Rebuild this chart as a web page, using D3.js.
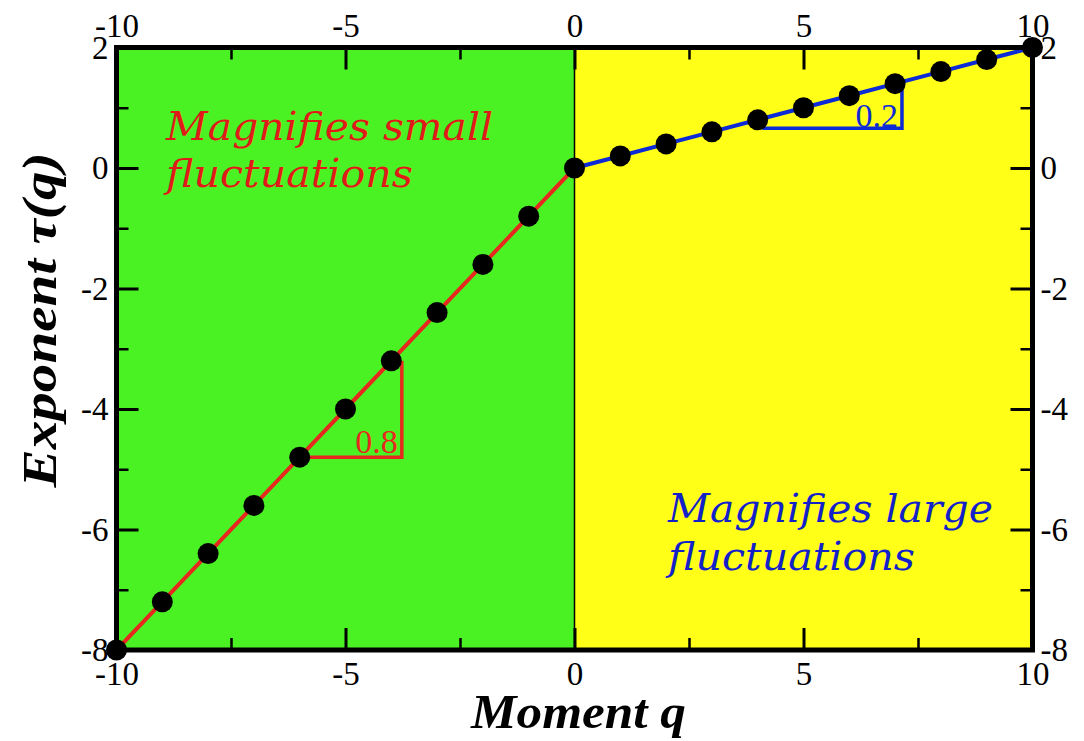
<!DOCTYPE html>
<html>
<head>
<meta charset="utf-8">
<script src="https://cdn.jsdelivr.net/npm/d3@7/dist/d3.min.js"></script>
<style>
  html, body { margin: 0; padding: 0; background: #ffffff; }
  svg { display: block; }
</style>
</head>
<body>
<svg id="chart" width="1084" height="741"></svg>
<script>
// Moments q and the scaling exponent tau(q)
const qNeg   = [-10, -9, -8, -7, -6, -5, -4, -3, -2, -1, 0];
const tauNeg = [-8, -7.2, -6.4, -5.6, -4.8, -4, -3.2, -2.4, -1.6, -0.8, 0];
const qPos   = [0, 1, 2, 3, 4, 5, 6, 7, 8, 9, 10];
const tauPos = [0, 0.2, 0.4, 0.6, 0.8, 1, 1.2, 1.4, 1.6, 1.8, 2];

// Slope guides (two legs each) and their labels
const slopeNeg = [[-6, -4.8], [-3.77, -4.8], [-3.77, -3.2]];
const slopePos = [[4.1, 0.66], [7.15, 0.66], [7.15, 1.32]];
const slopeNegLabel = "0.8";
const slopePosLabel = "0.2";

// Axis ticks
const xMajor = [-10, -5, 0, 5, 10];
const xMinor = [-7.5, -2.5, 2.5, 7.5];
const xLabels = ["-10", "-5", "0", "5", "10"];
const yMajor = [-8, -6, -4, -2, 0, 2];
const yMinor = [-7, -5, -3, -1, 1];
const yLabels = ["-8", "-6", "-4", "-2", "0", "2"];

const svg = d3.select("#chart");
const L = 116.5, R = 1032.5, T = 47.5, B = 650;

const x = d3.scaleLinear().domain([-10, 10]).range([L, R]);
const y = d3.scaleLinear().domain([-8, 2]).range([B, T]);

const GREEN = "#4af224", YELLOW = "#ffff18";
const RED = "#e6281e", BLUE = "#0c2ad6";
const RED_TXT = "#e01a18", BLUE_TXT = "#1222c8";

// Background regions
svg.append("rect").attr("x", x(-10)).attr("y", T)
  .attr("width", x(0) - x(-10)).attr("height", B - T).attr("fill", GREEN);
svg.append("rect").attr("x", x(0)).attr("y", T)
  .attr("width", x(10) - x(0)).attr("height", B - T).attr("fill", YELLOW);
svg.append("line").attr("x1", x(0)).attr("x2", x(0)).attr("y1", T).attr("y2", B)
  .attr("stroke", "#000").attr("stroke-width", 1.5);

// Annotations
function note(lines, xs, ys, color, widths) {
  lines.forEach((t, i) => {
    svg.append("text")
      .attr("x", xs).attr("y", ys[i])
      .attr("font-family", "DejaVu Serif")
      .attr("font-style", "italic")
      .attr("font-size", 40)
      .attr("fill", color)
      .attr("textLength", widths[i])
      .attr("lengthAdjust", "spacingAndGlyphs")
      .text(t);
  });
}
note(["Magnifies small", "fluctuations"], 166, [140, 187], RED_TXT, [327, 247]);
note(["Magnifies large", "fluctuations"], 668, [522, 570], BLUE_TXT, [325, 247]);

// Slope guides
const guide = d3.line().x(d => x(d[0])).y(d => y(d[1]));
svg.append("path").attr("d", guide(slopeNeg)).attr("fill", "none")
  .attr("stroke", RED).attr("stroke-width", 3.5);
svg.append("path").attr("d", guide(slopePos)).attr("fill", "none")
  .attr("stroke", BLUE).attr("stroke-width", 3.5);
svg.append("text").attr("x", x(slopeNeg[1][0]) - 4).attr("y", y(slopeNeg[1][1]) - 4)
  .attr("text-anchor", "end").attr("font-family", "Liberation Serif")
  .attr("font-size", 34).attr("fill", RED).text(slopeNegLabel);
svg.append("text").attr("x", x(slopePos[1][0]) - 4).attr("y", y(slopePos[1][1]) - 1)
  .attr("text-anchor", "end").attr("font-family", "Liberation Serif")
  .attr("font-size", 34).attr("fill", BLUE).text(slopePosLabel);

// Curves
const neg = qNeg.map((q, i) => [q, tauNeg[i]]);
const pos = qPos.map((q, i) => [q, tauPos[i]]);
const curve = d3.line().x(d => x(d[0])).y(d => y(d[1]));
svg.append("path").attr("d", curve(neg)).attr("fill", "none")
  .attr("stroke", RED).attr("stroke-width", 4);
svg.append("path").attr("d", curve(pos)).attr("fill", "none")
  .attr("stroke", BLUE).attr("stroke-width", 4);

// Markers
svg.append("g").selectAll("circle").data(neg.concat(pos.slice(1))).join("circle")
  .attr("cx", d => x(d[0])).attr("cy", d => y(d[1])).attr("r", 10.5)
  .attr("fill", "#000");

// Axes: major ticks with labels, minor ticks without, all pointing inward
function styleAxis(g, w) {
  g.select(".domain").remove();
  g.selectAll(".tick line").attr("stroke", "#000").attr("stroke-width", w);
  g.selectAll(".tick text").attr("font-family", "Liberation Serif")
    .attr("font-size", 33).attr("fill", "#000");
}
const fx = d => xLabels[xMajor.indexOf(d)];
const fy = d => yLabels[yMajor.indexOf(d)];

svg.append("g").attr("transform", `translate(0,${B})`)
  .call(d3.axisBottom(x).tickValues(xMajor).tickFormat(fx).tickSize(-22).tickPadding(12))
  .call(g => styleAxis(g, 3));
svg.append("g").attr("transform", `translate(0,${B})`)
  .call(d3.axisBottom(x).tickValues(xMinor).tickFormat("").tickSize(-12))
  .call(g => styleAxis(g, 2.5));
svg.append("g").attr("transform", `translate(0,${T})`)
  .call(d3.axisTop(x).tickValues(xMajor).tickFormat(fx).tickSize(-22).tickPadding(11))
  .call(g => styleAxis(g, 3));
svg.append("g").attr("transform", `translate(0,${T})`)
  .call(d3.axisTop(x).tickValues(xMinor).tickFormat("").tickSize(-12))
  .call(g => styleAxis(g, 2.5));
svg.append("g").attr("transform", `translate(${L},0)`)
  .call(d3.axisLeft(y).tickValues(yMajor).tickFormat(fy).tickSize(-22).tickPadding(8))
  .call(g => styleAxis(g, 3));
svg.append("g").attr("transform", `translate(${L},0)`)
  .call(d3.axisLeft(y).tickValues(yMinor).tickFormat("").tickSize(-12))
  .call(g => styleAxis(g, 2.5));
svg.append("g").attr("transform", `translate(${R},0)`)
  .call(d3.axisRight(y).tickValues(yMajor).tickFormat(fy).tickSize(-22).tickPadding(8))
  .call(g => styleAxis(g, 3));
svg.append("g").attr("transform", `translate(${R},0)`)
  .call(d3.axisRight(y).tickValues(yMinor).tickFormat("").tickSize(-12))
  .call(g => styleAxis(g, 2.5));

// Frame
svg.append("rect").attr("x", L).attr("y", T).attr("width", R - L).attr("height", B - T)
  .attr("fill", "none").attr("stroke", "#000").attr("stroke-width", 5);

// Axis titles
svg.append("text").attr("x", (L + R) / 2 + 4).attr("y", 728)
  .attr("text-anchor", "middle").attr("font-family", "Liberation Serif")
  .attr("font-weight", "bold").attr("font-style", "italic").attr("font-size", 48)
  .attr("textLength", 215).attr("lengthAdjust", "spacingAndGlyphs")
  .text("Moment q");
svg.append("text").attr("transform", `translate(56,320) rotate(-90)`)
  .attr("text-anchor", "middle").attr("font-family", "Liberation Serif")
  .attr("font-weight", "bold").attr("font-style", "italic").attr("font-size", 48)
  .attr("textLength", 335).attr("lengthAdjust", "spacingAndGlyphs")
  .text("Exponent τ(q)");
</script>
</body>
</html>
